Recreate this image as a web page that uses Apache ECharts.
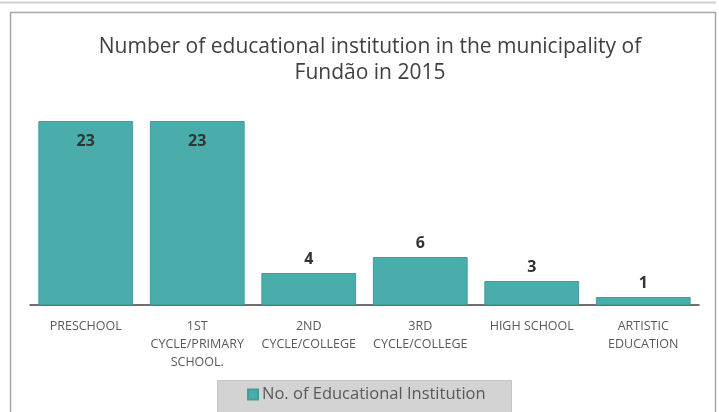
<!DOCTYPE html>
<html><head><meta charset="utf-8">
<script src="https://cdn.jsdelivr.net/npm/echarts@6/dist/echarts.min.js"></script>
<style>html,body{margin:0;padding:0;background:#fff}#c{width:719px;height:412px}</style>
</head><body><div id="c"></div>
<script>
const categories = ['PRESCHOOL', '1ST\nCYCLE/PRIMARY\nSCHOOL.', '2ND\nCYCLE/COLLEGE', '3RD\nCYCLE/COLLEGE', 'HIGH SCHOOL', 'ARTISTIC\nEDUCATION'];
const values = [23, 23, 4, 6, 3, 1];
const seriesName = 'No. of Educational Institution';
const titleText = 'Number of educational institution in the municipality of\nFundão in 2015';

const chart = echarts.init(document.getElementById('c'));
const big = 10;
chart.setOption({
  animation: false,
  graphic: [
    {type: 'line', shape: {x1: 0, y1: 2.5, x2: 716, y2: 2.5}, style: {stroke: '#d0d0d0', lineWidth: 2}},
    {type: 'rect', shape: {x: 10.5, y: 12.5, width: 705, height: 410}, style: {fill: 'none', stroke: '#a6a6a6', lineWidth: 1.5}},
    {type: 'rect', shape: {x: 217.5, y: 380.5, width: 294, height: 40}, style: {fill: '#d3d3d3', stroke: '#c4c4c4'}, z: 0}
  ],
  title: {
    text: titleText, left: 365, top: 29, textAlign: 'center',
    textStyle: {fontFamily: 'Open Sans', fontSize: 21, fontWeight: 'normal', color: '#404040', lineHeight: 26}
  },
  legend: {
    data: [seriesName], top: 386, left: 247, itemWidth: 10, itemHeight: 10, itemGap: 4,
    icon: 'rect', z: 5, padding: 0,
    textStyle: {fontFamily: 'Open Sans', fontSize: 16.5, color: '#595959', padding: [0,0,0,-1]}
  },
  grid: {left: 30, right: 20, top: 121, bottom: 107},
  xAxis: {
    type: 'category', data: categories,
    axisLine: {lineStyle: {color: '#404040', width: 1.5}},
    axisTick: {show: false},
    axisLabel: {interval: 0, fontFamily: 'Open Sans', fontSize: 12.5, color: '#595959', lineHeight: 18, margin: 12}
  },
  yAxis: {type: 'value', min: 0, max: 23, show: false, splitLine: {show: false}},
  series: [{
    name: seriesName, type: 'bar', data: values.map(v => ({
      value: v,
      label: v > big ? {position: 'insideTop', distance: 12} : {position: 'top', distance: 6}
    })),
    barCategoryGap: '15%',
    itemStyle: {color: '#4bacac', borderColor: '#3f9d9d', borderWidth: 1},
    label: {show: true, fontFamily: 'Open Sans', fontSize: 16, fontWeight: 'bold', color: '#333'}
  }]
});
</script></body></html>
